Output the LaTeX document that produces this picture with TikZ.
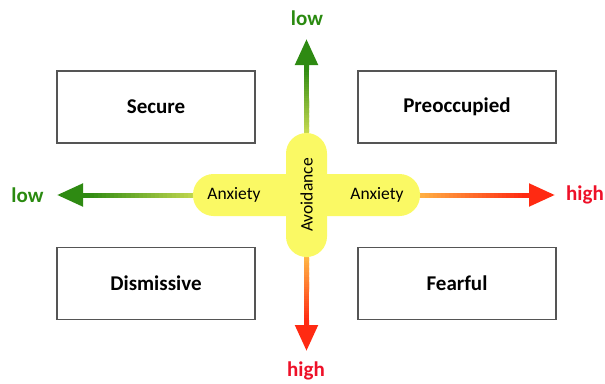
\documentclass[tikz,border=0pt]{standalone}
\usepackage{fontspec}
\setmainfont{Carlito}
\usepackage{tikz}
\usetikzlibrary{arrows.meta,positioning,calc}
\definecolor{Leaf}{HTML}{2E8A12}
\definecolor{Lime}{HTML}{D2E055}
\definecolor{Flame}{HTML}{FF2A12}
\definecolor{Amber}{HTML}{FFC24A}
\definecolor{Lemon}{HTML}{FAF964}
\definecolor{Frame}{HTML}{555555}
\definecolor{LowText}{HTML}{2A8A10}
\definecolor{HighText}{HTML}{EE1028}

\begin{document}
\begin{tikzpicture}[x=1pt,y=-1pt,
    stylebox/.style={draw=Frame,line width=1.3pt,fill=white,minimum width=198pt,minimum height=72pt,font=\fontsize{21}{24}\selectfont\bfseries},
    pill/.style={fill=Lemon,rounded corners=20.5pt,inner sep=0pt},
    axislabel/.style={font=\fontsize{17.5}{20}\selectfont},
    endlabel/.style={font=\fontsize{21}{24}\selectfont\bfseries},
    shaft/.style={line width=5pt,line cap=rect}]
        \useasboundingbox (0,0) rectangle (605,383);
        \coordinate (c) at (306.5,195);
        \coordinate (wtip) at (57,195);
        \coordinate (etip) at (555,195);
        \coordinate (ntip) at (306.5,39);
        \coordinate (stip) at (306.5,351);
        % four attachment styles
        \node[stylebox] (secure) at (156,107) {Secure};
        \node[stylebox] (preoccupied) at (457,107) {Preoccupied};
        \node[stylebox] (dismissive) at (156,283.5) {Dismissive};
        \node[stylebox] (fearful) at (457,283.5) {Fearful};
        % shaded axes
        \foreach \tip/\from/\to in {wtip/Lime/Leaf,ntip/Lime/Leaf,etip/Amber/Flame,stip/Amber/Flame}{
          \coordinate (\tip-base) at ($(\tip)!26pt!(c)$);
          \coordinate (\tip-start) at ($(c)!0.45!(\tip-base)$);
          \foreach \i in {0,...,29}{
            \pgfmathsetmacro{\p}{100*\i/29}
            \draw[shaft,color=\to!\p!\from] ($(\tip-start)!{\i/30}!(\tip-base)$) -- ($(\tip-start)!{(\i+1)/30}!(\tip-base)$);
          }
          \draw[line width=5pt,\to,-{Triangle[length=26pt,width=22pt]}] (\tip-base) -- (\tip);
        }
        \node[pill,minimum width=227pt,minimum height=42pt] (hpill) at (c) {};
        \node[pill,minimum width=41pt,minimum height=124pt] (vpill) at (c) {};
        \node[axislabel] (anxw) at (234,195) {Anxiety};
        \node[axislabel] (anxe) at (377,195) {Anxiety};
        \node[axislabel,rotate=90] (avoid) at (c) {Avoidance};
        \node[endlabel,LowText] (loww) at (27.5,195) {low};
        \node[endlabel,HighText] (highe) at (585,195) {high};
        \node[endlabel,LowText] (lown) at (307,18) {low};
        \node[endlabel,HighText] (highs) at (306,371) {high};
      \end{tikzpicture}
\end{document}
